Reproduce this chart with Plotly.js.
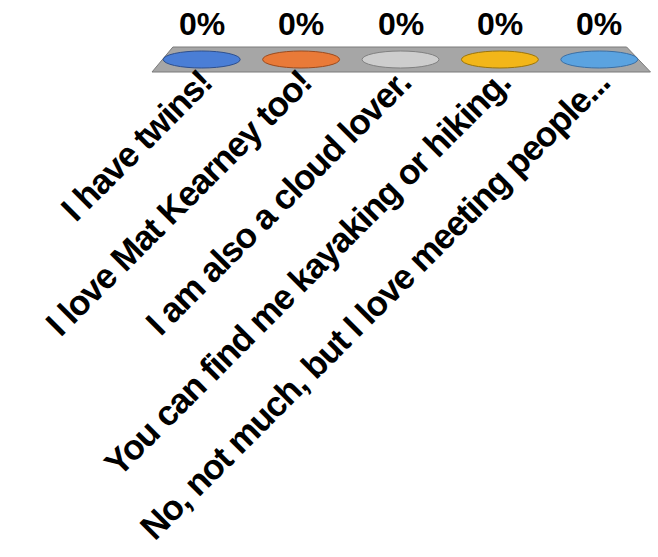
<!DOCTYPE html>
<html>
<head>
<meta charset="utf-8">
<script src="https://cdn.plot.ly/plotly-3.0.1.min.js"></script>
<style>
html,body{margin:0;padding:0;background:#fff;}
#chart{width:658px;height:557px;}
#chart .xtick text{letter-spacing:-1.1px;}
</style>
</head>
<body>
<div id="chart"></div>
<script>
const categories = [
  "I have twins!",
  "I love Mat Kearney too!",
  "I am also a cloud lover.",
  "You can find me kayaking or hiking.",
  "No, not much, but I love meeting people..."
];
const values = [0, 0, 0, 0, 0];
const colors = ["#4a7ed6", "#e97a38", "#cdcdcd", "#f2b619", "#5ba3e0"];
const edgeColors = ["#2d4f8e", "#9c4a1c", "#808080", "#9c7408", "#3a6fa5"];

const FONT = "Liberation Sans, Arial, Helvetica, sans-serif";

const shapes = [
  // 3D floor (decoration)
  {type: "path", xref: "paper", yref: "paper",
   path: "M 0.042 1 L 0.955 1 L 1.003 0 L 0 0 Z",
   fillcolor: "#a6a6a6", line: {color: "#7a7a7a", width: 1}, layer: "below"}
];
values.forEach((v, i) => {
  shapes.push({
    type: "circle", xref: "x", yref: "y",
    x0: i - 0.387, x1: i + 0.387,
    ysizemode: "pixel", yanchor: v, y0: -8.5, y1: 8.5,
    fillcolor: colors[i], line: {color: edgeColors[i], width: 1}, layer: "above"
  });
});

const annotations = values.map((v, i) => ({
  x: i, y: v, xref: "x", yref: "y",
  text: (v * 100).toFixed(0) + "%",
  showarrow: false, yanchor: "middle", yshift: 36,
  font: {family: FONT, size: 32, color: "#000", weight: "bold"}
}));

const trace = {
  type: "bar", x: categories, y: values,
  marker: {color: colors}, hoverinfo: "skip", showlegend: false
};

const layout = {
  width: 658, height: 557,
  margin: {l: 152, r: 9, t: 47, b: 485},
  paper_bgcolor: "#fff", plot_bgcolor: "rgba(0,0,0,0)",
  xaxis: {
    type: "category", range: [-0.5, 4.5],
    tickangle: -45, showgrid: false, zeroline: false, showline: false, ticks: "",
    ticklabelstandoff: -18,
    tickfont: {family: FONT, size: 35, color: "#000", weight: "bold"},
    automargin: false, fixedrange: true
  },
  yaxis: {range: [-1, 1], visible: false, fixedrange: true},
  shapes: shapes,
  annotations: annotations,
  showlegend: false
};

Plotly.newPlot("chart", [trace], layout, {displayModeBar: false, staticPlot: true});
</script>
</body>
</html>
